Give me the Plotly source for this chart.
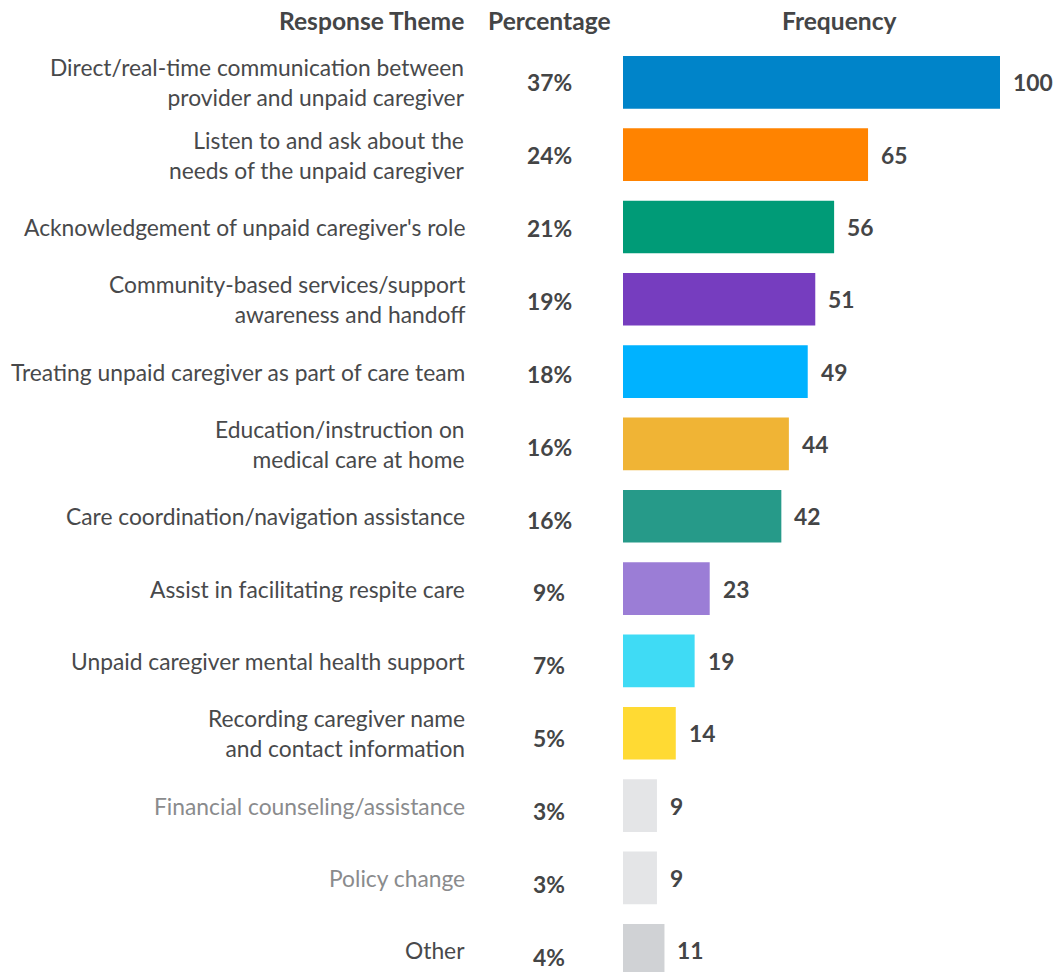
import plotly.graph_objects as go

themes = [
    "Direct/real-time communication between<br>provider and unpaid caregiver",
    "Listen to and ask about the<br>needs of the unpaid caregiver",
    "Acknowledgement of unpaid caregiver's role",
    "Community-based services/support<br>awareness and handoff",
    "Treating unpaid caregiver as part of care team",
    "Education/instruction on<br>medical care at home",
    "Care coordination/navigation assistance",
    "Assist in facilitating respite care",
    "Unpaid caregiver mental health support",
    "Recording caregiver name<br>and contact information",
    "Financial counseling/assistance",
    "Policy change",
    "Other",
]
percentages = ["37%", "24%", "21%", "19%", "18%", "16%", "16%", "9%", "7%", "5%", "3%", "3%", "4%"]
frequency = [100, 65, 56, 51, 49, 44, 42, 23, 19, 14, 9, 9, 11]
colors = ["#0084C9", "#FF8300", "#009B77", "#763DBF", "#00B2FF", "#F0B435", "#269A89",
          "#9B7DD6", "#3FDBF5", "#FFDA33", "#E4E5E7", "#E4E5E7", "#D0D2D5"]
label_colors = ["#48494B"] * 10 + ["#8A8B8D", "#8A8B8D", "#48494B"]

W, H = 1054, 972
FONT = "Lato"
DARK = "#444546"
LBL = 22.8
NUM = 22.8
HDR = 24.6

rows = list(range(len(themes)))

fig = go.Figure()
fig.add_trace(go.Bar(
    x=frequency, y=rows, orientation="h",
    marker=dict(color=colors, line=dict(width=0)),
    width=0.728, hoverinfo="skip",
))

ann = []
for i in rows:
    ann.append(dict(x=466.5 / W, xref="paper", y=i, yref="y", text=themes[i],
                    xanchor="right", yanchor="middle", align="right", showarrow=False,
                    font=dict(family=FONT, size=LBL, color=label_colors[i])))
    ann.append(dict(x=549 / W, xref="paper", y=i, yref="y", text="<b>" + percentages[i] + "</b>",
                    xanchor="center", yanchor="middle", showarrow=False, yshift=-0.55 * i,
                    font=dict(family=FONT, size=NUM, color=DARK)))
    ann.append(dict(x=frequency[i], xref="x", y=i, yref="y", text="<b>" + str(frequency[i]) + "</b>",
                    xanchor="left", yanchor="middle", xshift=11, showarrow=False,
                    font=dict(family=FONT, size=NUM, color=DARK)))

hy = 1 - 21 / H
ann.append(dict(x=466 / W, xref="paper", y=hy, yref="paper", text="<b>Response Theme</b>",
                xanchor="right", yanchor="middle", showarrow=False,
                font=dict(family=FONT, size=HDR, color=DARK)))
ann.append(dict(x=549 / W, xref="paper", y=hy, yref="paper", text="<b>Percentage</b>",
                xanchor="center", yanchor="middle", showarrow=False,
                font=dict(family=FONT, size=HDR, color=DARK)))
ann.append(dict(x=839 / W, xref="paper", y=hy, yref="paper", text="<b>Frequency</b>",
                xanchor="center", yanchor="middle", showarrow=False,
                font=dict(family=FONT, size=HDR, color=DARK)))

px_per_unit = 3.77
d0 = 623 / W
xmax = (W - 623) / px_per_unit
row_px = 72.33
top = -82.3 / row_px
bottom = top + H / row_px

fig.update_layout(
    width=W, height=H,
    margin=dict(l=0, r=0, t=0, b=0),
    paper_bgcolor="white", plot_bgcolor="white",
    showlegend=False,
    xaxis=dict(domain=[d0, 1], range=[0, xmax], visible=False, fixedrange=True),
    yaxis=dict(range=[bottom, top], visible=False, fixedrange=True),
    annotations=ann,
    font=dict(family=FONT),
)

fig.write_html(
    "out.html",
    config={"displayModeBar": False, "staticPlot": True},
    post_script="document.body.style.margin='0px';document.body.style.overflow='hidden';",
)
